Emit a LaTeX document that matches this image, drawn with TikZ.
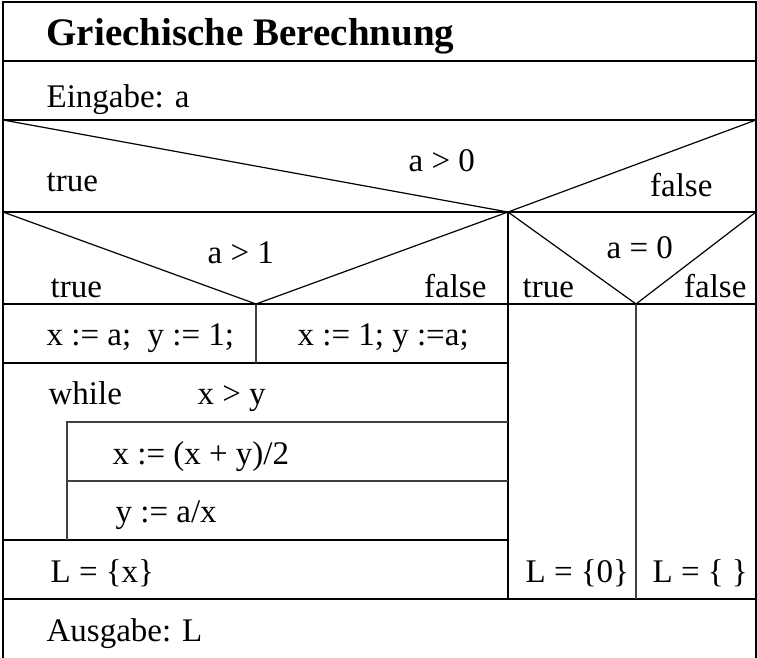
\documentclass[tikz,border=0pt]{standalone}
\usepackage{fontspec}
\setmainfont{Liberation Serif}
\begin{document}
\begin{tikzpicture}[x=1pt,y=-1pt,line width=1.2pt,
    txt/.style={anchor=base west,inner sep=0pt,font=\fontsize{33}{33}\selectfont},
    thin line/.style={line width=1.2pt,black!75}]
\useasboundingbox (0,0) rectangle (757,658);
% frame and rows
\draw (3,658) -- (3,2) -- (756,2) -- (756,658);
\draw (3,61) -- (756,61);
\draw (3,120) -- (756,120);
\draw (3,212) -- (756,212);
\draw (3,304) -- (756,304);
\draw (3,363) -- (508,363);
\draw (3,540) -- (508,540);
\draw (3,599) -- (756,599);
\draw (508,212) -- (508,599);
\draw[thin line] (636,304) -- (636,599);
\draw[thin line] (256,304) -- (256,363);
% while body
\draw[thin line] (508,422) -- (67,422) -- (67,540);
\draw[thin line] (67,481) -- (508,481);
% branches
\draw (3,120) -- (508,212) -- (756,120);
\draw (3,212) -- (256,304) -- (508,212);
\draw (508,212) -- (636,304) -- (756,212);
% texts
\node[txt,font=\fontsize{39}{39}\selectfont\bfseries] (title) at (46,46) {Griechische Berechnung};
\node[txt] (ein) at (46,107) {Eingabe: a};
\node[txt] (c1) at (408,171) {a > 0};
\node[txt] (t1) at (46,191) {true};
\node[txt,anchor=base east] (f1) at (713,196) {false};
\node[txt] (c2) at (207,263) {a > 1};
\node[txt] (t2) at (50,297) {true};
\node[txt,anchor=base east] (f2) at (487,297) {false};
\node[txt] (c3) at (606,258) {a = 0};
\node[txt] (t3) at (522,297) {true};
\node[txt,anchor=base east] (f3) at (747,297) {false};
\node[txt] (s1) at (46,345) {x := a;\ \ y := 1;};
\node[txt] (s2) at (297,345) {x := 1; y :=a;};
\node[txt] (wh) at (48,404) {while};
\node[txt] (wc) at (197,404) {x > y};
\node[txt] (b1) at (112,464) {x := (x + y)/2};
\node[txt] (b2) at (115,522) {y := a/x};
\node[txt] (l1) at (50,582) {L = \{x\}};
\node[txt] (l2) at (525,582) {L = \{0\}};
\node[txt] (l3) at (652,582) {L = \{ \}};
\node[txt] (aus) at (46,641) {Ausgabe: L};
\end{tikzpicture}
\end{document}
